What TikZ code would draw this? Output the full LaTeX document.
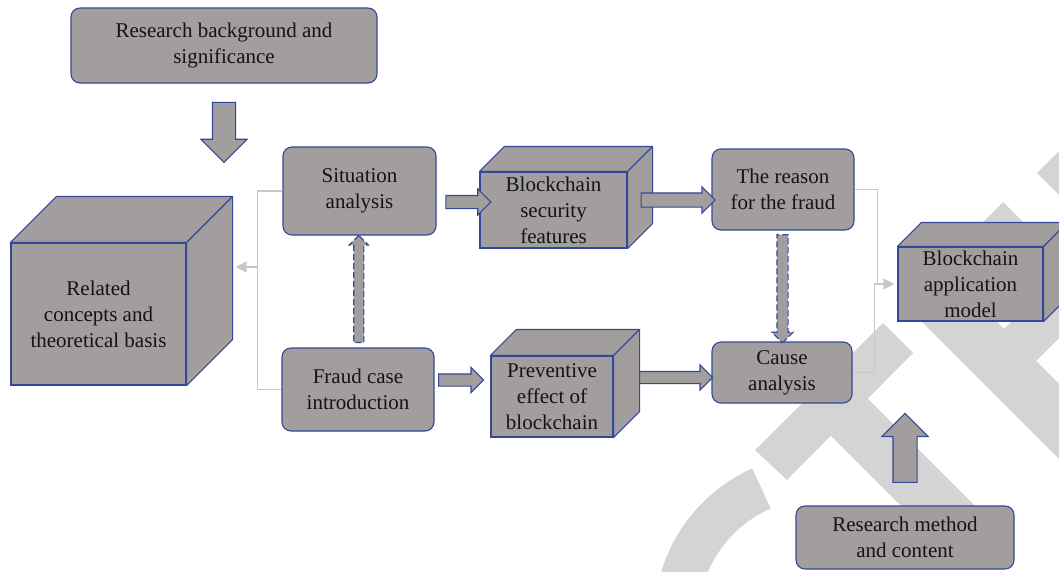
\documentclass[tikz,border=0pt]{standalone}
\usepackage{fontspec}
\setmainfont{Liberation Serif}
\usepackage{tikz}
\usetikzlibrary{positioning,shapes.arrows,arrows.meta,calc}
\definecolor{BoxGrey}{HTML}{A19E9D}
\definecolor{BoxBlue}{HTML}{33489A}
\definecolor{LinkGrey}{HTML}{C9C7C7}
\definecolor{WmGrey}{HTML}{D4D4D4}
% top and right faces of a box node, #2 = depth
\newcommand{\cubetop}[2]{%
  \draw[cubeside] (#1.north west) -- ++(#2,-#2) -| ($(#1.south east)+(#2,-#2)$)
    -- (#1.south east) -- (#1.north east) -- cycle;
  \draw[cubeside] (#1.north east) -- ++(#2,-#2);}

\begin{document}
\begin{tikzpicture}[x=1pt, y=-1pt,
    txt/.style={font=\fontsize{21}{26}\selectfont, align=center, text=black!92},
    rbox/.style={txt, rectangle, rounded corners=9pt, draw=BoxBlue, fill=BoxGrey, line width=1.1pt},
    cube/.style={txt, rectangle, draw=BoxBlue, fill=BoxGrey, line width=1.1pt, inner sep=0pt},
    cubeside/.style={draw=BoxBlue, fill=BoxGrey, line width=1.1pt, line join=round},
    barrow/.style n args={3}{single arrow, draw=BoxBlue, fill=BoxGrey, line width=1.1pt,
      inner xsep=0pt, inner ysep=#1, single arrow head extend=#2, minimum height=#3},
    darrow/.style={dash pattern=on 6pt off 3pt},
    link/.style={draw=LinkGrey, line width=1.3pt},
    wmark/.style={fill=WmGrey, draw=none}]
  \useasboundingbox (0,0) rectangle (1059,571);

  % watermark
  \begin{scope}
    \clip (0,0) rectangle (1059,571);
    \draw[WmGrey, line width=44pt] plot[domain=-114:-190, samples=50] ({820+144*cos(\x)},{620+144*sin(\x)});
    \fill[wmark] (755,450) -- (787,480) -- (913,353) -- (883,323) -- cycle;
    \fill[wmark] (826,431) -- (862,393) -- (1000,531) -- (962,567) -- cycle;
    \fill[wmark] (900,300) -- (937,262) -- (1160,485) -- (1123,523) -- cycle;
    \fill[wmark] (995,338) -- (1100,233) -- (1100,297) -- (1030,367) -- cycle;
    \fill[wmark] (1003,202) -- (1060,259) -- (1003,316) -- (946,259) -- cycle;
    \fill[wmark] (1037,173) -- (1087,123) -- (1150,186) -- (1100,236) -- cycle;
  \end{scope}

  % boxes
  \node[rbox, minimum width=306, minimum height=75] (bg) at (224,45.5) {Research background and\\significance};
  \node[rbox, minimum width=153, minimum height=88] (sit) at (359.5,191) {Situation\\analysis};
  \node[rbox, minimum width=152, minimum height=83] (fraud) at (358,389.5) {Fraud case\\introduction};
  \node[rbox, minimum width=142, minimum height=81] (reason) at (783,189.5) {The reason\\for the fraud};
  \node[rbox, minimum width=140, minimum height=61] (cause) at (782,372.5) {Cause\\analysis};
  \node[rbox, minimum width=218, minimum height=63] (method) at (905,537.5) {Research method\\and content};

  \node[cube, minimum width=147, minimum height=76] (sec) at (553.5,210) {Blockchain\\security\\features};
  \node[cube, minimum width=122, minimum height=81] (prev) at (552,396.5) {Preventive\\effect of\\blockchain};
  \node[cube, minimum width=145, minimum height=74] (app) at (970.5,284) {Blockchain\\application\\model};
  \node[cube, minimum width=175, minimum height=142] (rel) at (98.5,314) {Related\\concepts and\\theoretical basis};
  \cubetop{sec}{25}
  \cubetop{prev}{26}
  \cubetop{app}{24}
  \cubetop{rel}{46}

  % thin grey links
  \draw[link] (sit.west) -- ++(-25,0) |- (fraud.west);
  \draw[link, -{Triangle[length=11pt, width=11pt]}] ($(sit.west)+(-25,76)$) -- ($(rel.east)+(49,-47)$);
  \draw[link] (reason.east) -- ++(23,0) coordinate (rj) -- (rj |- app.west);
  \draw[link, -{Triangle[length=11pt, width=11pt]}, shorten >=3pt] (cause.east) -- ++(22,0) |- (app.west);

  % block arrows
  \node[barrow={11}{11.5}{60}, rotate=-90] (down) at ($(bg.south)+(0,43)$) {};
  \node[barrow={11.5}{11}{69}, rotate=90] (up) at ($(method.north)+(0,-51.5)$) {};
  \node[barrow={4.5}{4.5}{107}, darrow, rotate=90] (fs) at ($(fraud.north)!.5!(sit.south)$) {};
  \node[barrow={5}{5}{108}, darrow, rotate=-90] (rc) at ($(reason.south)!.5!(cause.north)$) {};
  \node[barrow={6}{6.5}{45}] (a1) at ($(sit.east)+(28.5,11)$) {};
  \node[barrow={5.5}{6.5}{45}] (a2) at ($(fraud.east)+(23.5,-9.5)$) {};
  \node[barrow={6.5}{6}{74}] (a3) at ($(sec.east)+(47,-10)$) {};
  \node[barrow={5.5}{6.5}{73}] (a4) at ($(prev.east)+(59.5,-19)$) {};
\end{tikzpicture}
\end{document}
